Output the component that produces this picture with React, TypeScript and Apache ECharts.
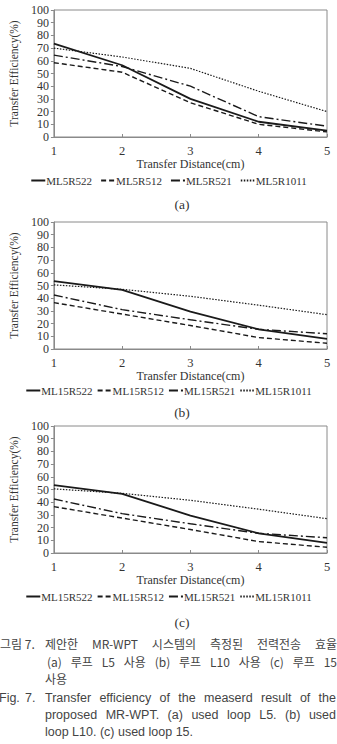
import React, { useEffect, useRef } from "react";
import * as echarts from "echarts";

// ---------- data ----------
const distances = [1, 2, 3, 4, 5];
const tickLabelsY = [0, 10, 20, 30, 40, 50, 60, 70, 80, 90, 100];

const namesA = ["ML5R522", "ML5R512", "ML5R521", "ML5R1011"];
const a_R522 = [73.5, 56.5, 30, 12, 5];
const a_R512 = [58.5, 51, 27, 10, 4];
const a_R521 = [64.5, 55.5, 40, 16, 8.5];
const a_R1011 = [70, 63, 54, 36, 20];

const namesB = ["ML15R522", "ML15R512", "ML15R521", "ML15R1011"];
const b_R522 = [53.5, 46.5, 29.5, 15.5, 8];
const b_R512 = [36.5, 27.5, 18.5, 9, 4.5];
const b_R521 = [42.5, 31, 23, 15.5, 12];
const b_R1011 = [50.5, 47, 41.5, 34.5, 27];

const namesC = ["ML15R522", "ML15R512", "ML15R521", "ML15R1011"];
const c_R522 = [53.5, 46.5, 29.5, 15.5, 8];
const c_R512 = [36.5, 27.5, 18.5, 9, 4.5];
const c_R521 = [42.5, 31, 23, 15.5, 12];
const c_R1011 = [50.5, 47, 41.5, 34.5, 27];

const subLabels = ["(a)", "(b)", "(c)"];

const captionKo1 = "제안한 MR-WPT 시스템의 측정된 전력전송 효율";
const captionKo2 = "(a) 루프 L5 사용 (b) 루프 L10 사용 (c) 루프 15";
const captionKo3 = "사용";
const captionEn1 = "Transfer efficiency of the measerd result of the";
const captionEn2 = "proposed MR-WPT. (a) used loop L5. (b) used";
const captionEn3 = "loop L10. (c) used loop 15.";

// ---------- styles ----------
const SERIF = "'Liberation Serif', 'DejaVu Serif', serif";
const KO = "'Noto Sans CJK KR', sans-serif";
const EN = "'Liberation Sans', 'Noto Sans', sans-serif";
const LINE = "#1a1a1a";
const lineStyles: any[] = [
  { type: "solid", width: 1.8 },
  { type: [5, 3], width: 1.4 },
  { type: [9, 3, 2, 3], width: 1.4 },
  { type: [1.5, 1.5], width: 1.2 },
];

const panels = [
  { names: namesA, data: [a_R522, a_R512, a_R521, a_R1011], top: 10, legendY: 170, legendGap: 8, subY: 204 },
  { names: namesB, data: [b_R522, b_R512, b_R521, b_R1011], top: 222, legendY: 380, legendGap: 4, subY: 412 },
  { names: namesC, data: [c_R522, c_R512, c_R521, c_R1011], top: 426, legendY: 586, legendGap: 4, subY: 622 },
];

function justify(text: string, x0: number, x1: number, y: number, font: string, size: number, fill: string) {
  const words = text.split(" ");
  const cv = document.createElement("canvas");
  const ctx = cv.getContext("2d")!;
  ctx.font = `${size}px ${font}`;
  const widths = words.map((w) => ctx.measureText(w).width);
  const total = widths.reduce((s, v) => s + v, 0);
  const gap = words.length > 1 ? (x1 - x0 - total) / (words.length - 1) : 0;
  let x = x0;
  return words.map((w, i) => {
    const el = {
      type: "text",
      x,
      y,
      style: { text: w, fontSize: size, fontFamily: font, fill, textVerticalAlign: "middle", lineHeight: size },
    };
    x += widths[i] + gap;
    return el;
  });
}

export default function App() {
  const ref = useRef<HTMLDivElement>(null);
  useEffect(() => {
    document.body.style.margin = "0";
    const chart = echarts.init(ref.current!, undefined, { renderer: "svg" });
    const grids: any[] = [];
    const xAxes: any[] = [];
    const yAxes: any[] = [];
    const series: any[] = [];
    const legends: any[] = [];
    panels.forEach((p, gi) => {
      grids.push({ left: 44, right: 10, top: p.top, height: 127, show: true, borderColor: "#8a8a8a", borderWidth: 1 });
      xAxes.push({
        type: "value",
        gridIndex: gi,
        min: 1,
        max: 5,
        interval: 1,
        name: "Transfer Distance(cm)",
        nameLocation: "middle",
        nameGap: 21,
        nameTextStyle: { fontFamily: SERIF, fontSize: 12, color: "#333" },
        axisLine: { lineStyle: { color: "#8a8a8a" } },
        axisTick: { show: true, inside: true, length: 3, lineStyle: { color: "#8a8a8a" } },
        axisLabel: { fontFamily: SERIF, fontSize: 12.5, color: "#333", margin: 7, showMinLabel: true, showMaxLabel: true, hideOverlap: false },
        splitLine: { show: false },
      });
      yAxes.push({
        type: "value",
        gridIndex: gi,
        min: 0,
        max: 100,
        interval: 10,
        name: "Transfer Efficiency(%)",
        nameLocation: "middle",
        nameGap: 27,
        nameTextStyle: { fontFamily: SERIF, fontSize: 11.5, color: "#333" },
        axisLine: { show: true, lineStyle: { color: "#8a8a8a" } },
        axisTick: { show: true, length: 3, lineStyle: { color: "#8a8a8a" } },
        axisLabel: {
          fontFamily: SERIF,
          fontSize: 12,
          lineHeight: 11,
          color: "#333",
          margin: 5,
          showMinLabel: true,
          showMaxLabel: true,
          hideOverlap: false,
          formatter: (v: number) => (tickLabelsY.includes(v) ? String(v) : ""),
        },
        splitLine: { show: false },
      });
      p.names.forEach((n, si) => {
        series.push({
          type: "line",
          name: n,
          xAxisIndex: gi,
          yAxisIndex: gi,
          data: distances.map((d, k) => [d, p.data[si][k]]),
          symbol: "none",
          smooth: false,
          lineStyle: { color: LINE, ...lineStyles[si] },
          itemStyle: { color: LINE },
        });
      });
      legends.push({
        data: p.names,
        top: p.legendY,
        left: "center",
        itemWidth: 14,
        itemHeight: 8,
        itemGap: p.legendGap,
        itemStyle: { opacity: 0 },
        textStyle: { fontFamily: SERIF, fontSize: 11, color: "#333", padding: [0, 0, 0, -4] },
        selectedMode: false,
      });
    });

    const graphics: any[] = [];
    panels.forEach((p, i) => {
      graphics.push({
        type: "text",
        x: 182,
        y: p.subY,
        style: { text: subLabels[i], fontFamily: SERIF, fontSize: 13.5, fill: "#333", textAlign: "center", textVerticalAlign: "middle" },
      });
    });
    const cap = "#444";
    const fs = 12;
    graphics.push({ type: "text", x: 0, y: 643, style: { text: "그림 7.", fontFamily: KO, fontSize: fs, lineHeight: fs, fill: cap, textVerticalAlign: "middle" } });
    graphics.push(...justify(captionKo1, 45, 337, 643, KO, fs, cap));
    graphics.push(...justify(captionKo2, 47, 337, 661, KO, fs, cap));
    graphics.push({ type: "text", x: 45, y: 678, style: { text: captionKo3, fontFamily: KO, fontSize: fs, lineHeight: fs, fill: cap, textVerticalAlign: "middle" } });
    graphics.push({ type: "text", x: -1, y: 698, style: { text: "Fig.", fontFamily: EN, fontSize: 12.5, lineHeight: 12.5, fill: cap, textVerticalAlign: "middle" } });
    graphics.push({ type: "text", x: 25, y: 698, style: { text: "7.", fontFamily: EN, fontSize: 12.5, lineHeight: 12.5, fill: cap, textVerticalAlign: "middle" } });
    graphics.push(...justify(captionEn1, 45, 336, 698, EN, 12.5, cap));
    graphics.push(...justify(captionEn2, 45, 336, 715, EN, 12.5, cap));
    graphics.push({ type: "text", x: 45, y: 732, style: { text: captionEn3, fontFamily: EN, fontSize: 12.5, lineHeight: 12.5, fill: cap, textVerticalAlign: "middle" } });

    chart.setOption({
      animation: false,
      backgroundColor: "#ffffff",
      grid: grids,
      xAxis: xAxes,
      yAxis: yAxes,
      legend: legends,
      series,
      graphic: graphics,
    });
    return () => chart.dispose();
  }, []);
  return <div ref={ref} style={{ width: 337, height: 744 }} />;
}
